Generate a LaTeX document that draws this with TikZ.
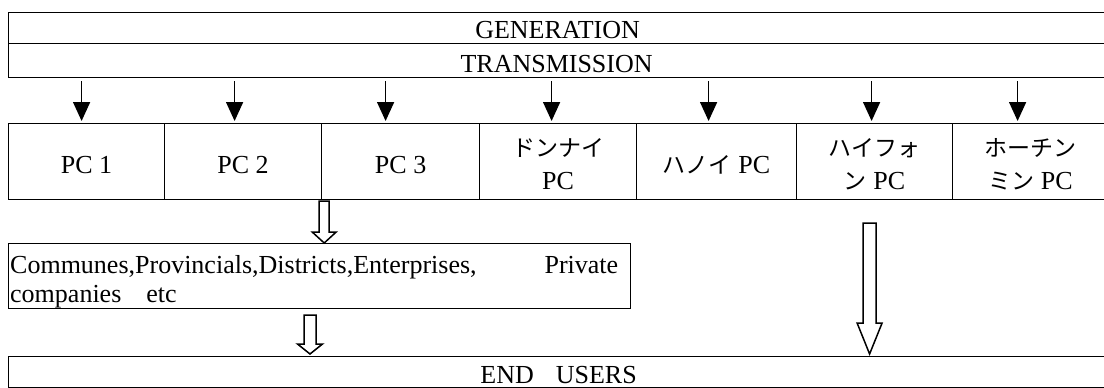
\documentclass[tikz,border=0pt]{standalone}
\usepackage{fontspec}
\setmainfont{Liberation Serif}
\newfontfamily\jp{Noto Sans CJK JP}
\usetikzlibrary{arrows.meta,calc}

% Japanese company names
\newcommand{\kana}[1]{{\jp\fontsize{23}{33}\selectfont #1}}

% hollow block arrow: start, tip, shaft half width, head half width, head length
\newcommand{\fatarrow}[5]{%
  \draw[fat] ($(#1)+(-#3,0)$) -- ($(#1)+(#3,0)$) -- ($(#2)+(#3,-#5)$)
    -- ($(#2)+(#4,-#5)$) -- (#2) -- ($(#2)+(-#4,-#5)$)
    -- ($(#2)+(-#3,-#5)$) -- cycle;}

\tikzset{
  box/.style={draw, line width=1.2pt, rectangle, inner sep=0pt, anchor=north west},
  lbl/.style={font=\fontsize{26}{33}\selectfont, align=center, inner sep=0pt},
  feed/.style={line width=1.6pt, -{Triangle[width=17pt,length=19pt]}},
  fat/.style={line width=1.5pt, line join=miter},
}

\begin{document}
\begin{tikzpicture}[x=1pt,y=-1pt]
\useasboundingbox (0,0) rectangle (1104,388);
\clip (0,0) rectangle (1104,388);

% supply chain bands
\node[box, minimum width=1098pt, minimum height=31pt] (gen) at (8,12) {};
\node[box, minimum width=1098pt, minimum height=34pt] (trans) at (8,43) {};
\node[lbl] (tgen) at ($(gen.center)+(0,2)$) {GENERATION};
\node[lbl] (ttrans) at ($(trans.center)+(-1,3)$) {TRANSMISSION};

% power companies
\foreach \i/\xa/\w in {1/8/156, 2/164/157, 3/321/158, 4/479/157, 5/636/160, 6/796/156, 7/952/156}
  \node[box, minimum width=\w pt, minimum height=76pt] (pc\i) at (\xa,123) {};

\node[lbl] (t1) at ($(pc1.center)+(0,3)$) {PC 1};
\node[lbl] (t2) at ($(pc2.center)+(0,3)$) {PC 2};
\node[lbl] (t3) at ($(pc3.center)+(0,3)$) {PC 3};
\node[lbl] (t4) at ($(pc4.center)+(0,3)$) {\kana{ドンナイ}\\PC};
\node[lbl] (t5) at ($(pc5.center)+(0,3)$) {\kana{ハノイ} PC};
\node[lbl] (t6) at ($(pc6.center)+(0,3)$) {\kana{ハイフォ}\\\kana{ン} PC};
\node[lbl] (t7) at ($(pc7.center)+(0,3)$) {\kana{ホーチン}\\\kana{ミン} PC};

% feeds from transmission
\foreach \i/\dx in {1/-5, 2/-8.5, 3/-15, 4/-6.5, 5/-8, 6/-3, 7/-13}
  \draw[feed] ($(pc\i.north |- trans.south)+(\dx,3)$) -- ($(pc\i.north)+(\dx,-2)$);

% local distributors
\node[box, minimum width=622pt, minimum height=65pt] (comm) at (8,243) {};
\node[lbl, anchor=base west] (c1) at ($(comm.north west)+(2,30)$)
  {\makebox[608pt][l]{Communes,Provincials,Districts,Enterprises,\hfill Private}};
\node[lbl, anchor=base west] (c2) at ($(comm.north west)+(2,59)$)
  {companies\hspace{25pt}etc};

% consumers
\node[box, minimum width=1098pt, minimum height=31pt] (endu) at (8,356) {};
\node[lbl] (tend) at ($(endu.center)+(1,3)$) {END\hspace{22pt}USERS};

% hollow arrows
\coordinate (a1s) at ($(pc2.south east)+(2,1)$);
\coordinate (a1t) at (a1s |- comm.north);
\fatarrow{a1s}{a1t}{5}{12}{11}

\coordinate (a2s) at ($(comm.south west)+(302,6)$);
\coordinate (a2t) at ($(a2s |- endu.north)+(0,-2)$);
\fatarrow{a2s}{a2t}{6}{12.5}{10}

\coordinate (a3s) at ($(pc6.south)+(-5,23)$);
\coordinate (a3t) at ($(a3s |- endu.north)+(0,-2)$);
\fatarrow{a3s}{a3t}{6.5}{12.5}{31}
\end{tikzpicture}
\end{document}
